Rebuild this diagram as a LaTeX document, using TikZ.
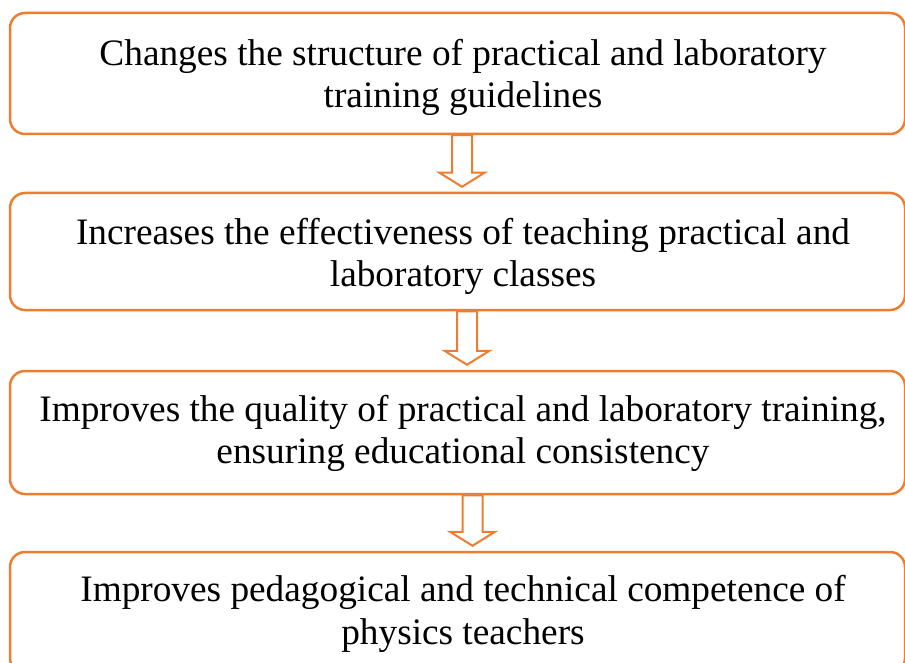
\documentclass[tikz,border=0pt]{standalone}
\usepackage{fontspec}
\setmainfont{Liberation Serif}
\usetikzlibrary{calc}
\definecolor{accent}{HTML}{ED7D31}
\tikzset{
  stage/.style={draw=accent, line width=2.5pt, rounded corners=15pt, fill=white,
    minimum width=895pt, inner sep=0pt},
  stagetext/.style={inner sep=0pt, align=center, anchor=base,
    font=\fontsize{37.3}{42.5}\selectfont},
  hollowarrow/.style={draw=accent, line width=2pt, fill=white, line join=miter}
}
% block arrow from the bottom of one stage to the top of the next
\newcommand\flowarrow[3]{%
  \draw[hollowarrow] let \p1=($(#1.south)+(#3,0)$), \p2=(#2.north) in
    (\x1-10pt,\y1) -- (\x1-10pt,\y2+19pt) -- (\x1-22.5pt,\y2+19pt) --
    (\x1,\y2+5pt) -- (\x1+22.5pt,\y2+19pt) -- (\x1+10pt,\y2+19pt) --
    (\x1+10pt,\y1) -- cycle;}
\begin{document}
\begin{tikzpicture}[x=1pt,y=-1pt]
\useasboundingbox (0,0) rectangle (905,663);
% frames
\node[stage, minimum height=121pt] (s1) at (457.5,73.5) {};
\node[stage, minimum height=117pt] (s2) at (457.5,251.5) {};
\node[stage, minimum height=123pt] (s3) at (457.5,432.5) {};
\node[stage, minimum height=121pt] (s4) at (457.5,612.5) {};
% captions, placed by the baseline of their last line
\node[stagetext] (t1) at (463,108)
  {Changes the structure of practical and laboratory\\training guidelines};
\node[stagetext] (t2) at (463,287)
  {Increases the effectiveness of teaching practical and\\laboratory classes};
\node[stagetext] (t3) at (463,463.5)
  {Improves the quality of practical and laboratory training,\\ensuring educational consistency};
\node[stagetext] (t4) at (463,644)
  {Improves pedagogical and technical competence of\\physics teachers};
\flowarrow{s1}{s2}{4.5}
\flowarrow{s2}{s3}{9.5}
\flowarrow{s3}{s4}{15}
\end{tikzpicture}
\end{document}
